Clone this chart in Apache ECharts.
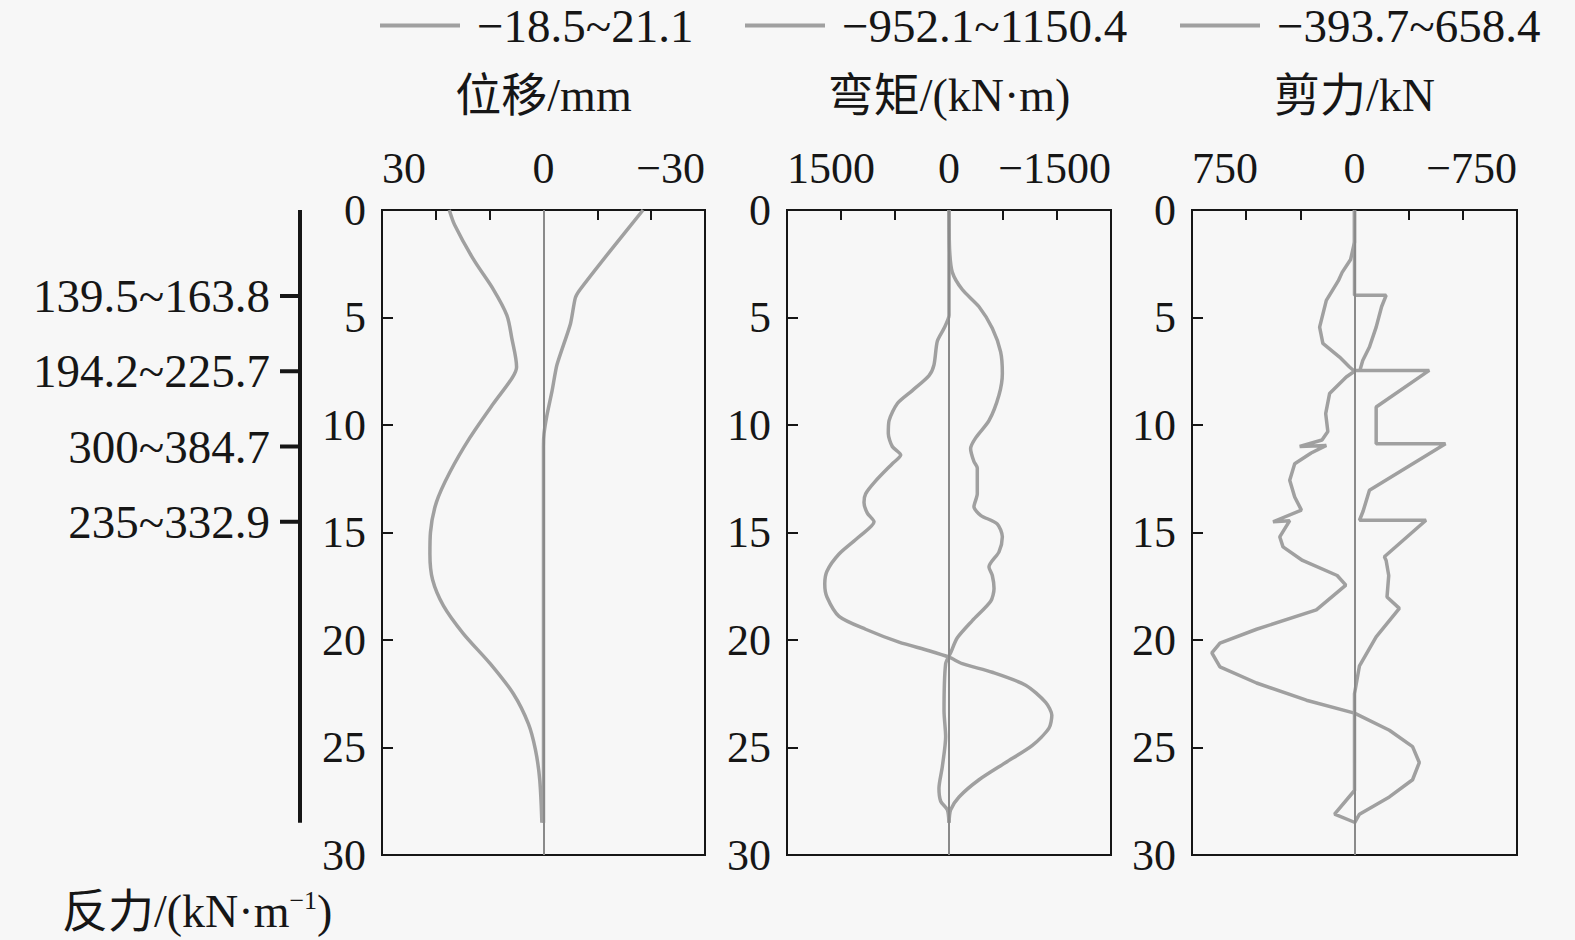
<!DOCTYPE html>
<html><head><meta charset="utf-8">
<script src="https://cdn.jsdelivr.net/npm/echarts@6/dist/echarts.min.js"></script>
<style>html,body{margin:0;padding:0;background:#f7f7f7}#c{width:1575px;height:940px}</style>
</head><body><div id="c"></div>
<script>
// ---------- data ----------
const legendNames = ['\u221218.5~21.1', '\u2212952.1~1150.4', '\u2212393.7~658.4'];
const axisTitles = ['位移/mm', '弯矩/(kN·m)', '剪力/kN'];
const axisRanges = [30, 1500, 750];
const xTickValues = [[-20, -10, 10, 20], [-1000, -500, 500, 1000], [-500, -250, 250, 500]];
const xLabelValues = [[-30, 0, 30], [-1500, 0, 1500], [-750, 0, 750]];
const depthTickValues = [5, 10, 15, 20, 25];

// [depth (m), value]
const dispA = [[0,17.5],[0.7,16.5],[2.3,13.0],[3.7,9.3],[4.9,6.8],[5.95,5.9],[7.3,5.0],[7.8,5.8],[9.0,9.3],[10.6,13.7],[12.2,17.4],[13.6,19.9],[15.0,21.0],[16.0,21.1],[17.2,20.6],[18.4,18.6],[19.7,14.9],[21.1,9.9],[22.5,5.6],[23.9,2.8],[25.1,1.5],[26.5,0.7],[28.5,0.3]];
const dispB = [[0,-18.5],[1.9,-12.4],[3.7,-6.8],[4.1,-5.9],[5.3,-5.0],[7.2,-2.5],[8.4,-1.6],[9.6,-0.6],[10.4,-0.1],[11,0],[28.5,0]];

const momentA = [[0,0],[4.9,0],[5.5,46],[6.1,108],[7.2,139],[7.7,185],[8.4,340],[9.0,478],[9.8,555],[10.4,562],[11.0,525],[11.4,447],[11.8,525],[12.6,679],[13.2,772],[13.6,787],[14.1,756],[14.5,694],[15.2,833],[16.0,1018],[16.8,1130],[17.4,1150.4],[18.0,1130],[18.9,1018],[19.5,772],[20.1,463],[20.5,185],[20.8,0],[21.1,-123],[21.5,-401],[22.1,-710],[22.9,-895],[23.5,-952.1],[24.1,-926],[24.9,-772],[25.7,-525],[26.5,-278],[27.3,-93],[27.9,-15],[28.5,0]];
const momentB = [[0,0],[1.9,-6],[2.9,-31],[3.7,-123],[4.5,-278],[5.5,-401],[6.6,-478],[7.6,-494],[8.6,-463],[9.8,-370],[10.6,-247],[11.1,-200],[11.7,-231],[12.0,-262],[13.2,-262],[13.8,-231],[14.2,-293],[14.6,-447],[15.2,-494],[15.9,-463],[16.6,-370],[17.0,-401],[17.6,-417],[18.2,-386],[19.1,-216],[19.9,-77],[20.6,-15],[21.1,31],[23.3,46],[24.5,31],[25.9,62],[26.9,93],[27.5,77],[27.9,15],[28.5,0]];

const shearA = [[0,0],[1.5,0],[2.3,18],[2.9,57],[3.3,75],[4.2,130],[5.45,161],[6.2,146],[6.84,69],[7.3,23],[7.5,0],[7.77,38],[8.54,115],[9.47,133],[10.3,123],[10.7,150],[11.0,253],[10.95,130],[11.3,200],[11.8,276],[12.57,299],[13.35,276],[13.96,245],[14.5,376],[14.45,299],[15.2,345],[15.67,330],[16.3,240],[17.0,80],[17.45,40],[18.6,176],[19.5,452],[20.15,621],[20.6,658.4],[21.25,621],[22.0,452],[22.8,222],[23.4,0],[24.2,-161],[24.96,-268],[25.7,-299],[26.5,-268],[27.3,-161],[28.1,-23],[28.5,0]];
const shearB = [[0,0],[3.97,0],[3.97,-146],[4.5,-125],[5.45,-100],[6.37,-69],[7.0,-38],[7.46,-25],[7.46,0],[7.46,-345],[9.16,-100],[10.87,-100],[10.87,-420],[13.03,-69],[14.0,-40],[14.43,-23],[14.43,-330],[16.13,-138],[16.3,-146],[17.0,-158],[18.0,-150],[18.53,-207],[19.85,-100],[21.2,-23],[22.5,0],[27.0,0],[28.1,92],[28.5,-5]];

const strutDepths = [4, 7.5, 11, 14.5];
const reactionLabels = ['139.5~163.8', '194.2~225.7', '300~384.7', '235~332.9'];
const pileLength = 28.5;

// ---------- chart ----------
const FONT = "'Liberation Serif','Noto Sans CJK SC',serif";
const INK = '#161616';
const CURVE = '#a0a0a0';
const fmt = v => String(v).replace('-', '\u2212');

const grids = [
  {left: 382, top: 210, width: 323, height: 645},
  {left: 787, top: 210, width: 324, height: 645},
  {left: 1192, top: 210, width: 325, height: 645}
].map(g => Object.assign(g, {show: true, borderColor: INK, borderWidth: 2, backgroundColor: 'transparent'}));
grids.push({left: 280, top: 210, width: 20, height: 645});

const xAxes = [0, 1, 2].map(i => ({
  gridIndex: i, type: 'value', position: 'top', inverse: true,
  min: -axisRanges[i], max: axisRanges[i],
  axisLine: {show: true, onZero: false, lineStyle: {color: INK, width: 2}}, splitLine: {show: false},
  axisTick: {show: true, inside: true, length: 10, customValues: xTickValues[i], lineStyle: {color: INK, width: 2}},
  axisLabel: {customValues: xLabelValues[i], formatter: fmt, fontSize: 44, fontFamily: FONT, color: INK, margin: 20,
              alignMinLabel: 'right', alignMaxLabel: 'left'},
  name: axisTitles[i], nameLocation: 'middle', nameGap: 92,
  nameTextStyle: {fontSize: 46, fontFamily: FONT, color: INK}
}));
xAxes.push({gridIndex: 3, type: 'value', min: 0, max: 1, show: false});

const yAxes = [0, 1, 2].map(i => ({
  gridIndex: i, type: 'value', position: 'left', inverse: true, min: 0, max: 30, interval: 5,
  axisLine: {show: true, onZero: false, lineStyle: {color: INK, width: 2}}, splitLine: {show: false},
  axisTick: {show: true, inside: true, length: 11, customValues: depthTickValues, lineStyle: {color: INK, width: 2}},
  axisLabel: {fontSize: 44, fontFamily: FONT, color: INK, margin: 16}
}));
yAxes.push({gridIndex: 3, type: 'value', inverse: true, min: 0, max: 30, show: false});

const centerLine = {
  silent: true, symbol: ['none', 'none'], label: {show: false},
  lineStyle: {color: '#8a8a8a', width: 2, type: 'solid'},
  emphasis: {disabled: true}, data: [{xAxis: 0}]
};

function curve(i, data, smooth, withCenter) {
  const s = {
    type: 'line', name: legendNames[i], xAxisIndex: i, yAxisIndex: i,
    data: data.map(p => [p[1], p[0]]), symbol: 'none', smooth: smooth,
    color: CURVE, lineStyle: {color: CURVE, width: 3.5}, itemStyle: {color: CURVE},
    emphasis: {disabled: true}, z: 3
  };
  if (withCenter) s.markLine = centerLine;
  return s;
}

const series = [
  curve(0, dispA, 0.3, true), curve(0, dispB, 0.2, false),
  curve(1, momentA, 0.25, true), curve(1, momentB, 0.25, false),
  curve(2, shearA, false, true), curve(2, shearB, false, false),
  {
    type: 'line', xAxisIndex: 3, yAxisIndex: 3, symbol: 'none', silent: true,
    data: [[1, 0], [1, pileLength]], lineStyle: {color: INK, width: 4}, emphasis: {disabled: true}
  },
  {
    type: 'custom', xAxisIndex: 3, yAxisIndex: 3, silent: true,
    data: strutDepths.map((d, i) => [d, i]),
    renderItem: function (params, api) {
      const d = api.value(0), idx = api.value(1);
      const p0 = api.coord([0, d]), p1 = api.coord([1, d]);
      return {
        type: 'group', children: [
          {type: 'line', shape: {x1: p0[0], y1: p0[1], x2: p1[0], y2: p1[1]}, style: {stroke: INK, lineWidth: 4}},
          {type: 'text', x: p0[0] - 10, y: p0[1], style: {text: reactionLabels[idx], fill: INK, font: '47px ' + FONT, align: 'right', verticalAlign: 'middle'}}
        ]
      };
    }
  }
];

const legendLefts = [380, 745, 1180];
const legends = legendNames.map((n, i) => ({
  data: [n], left: legendLefts[i], top: 2, padding: 0, icon: 'rect', itemWidth: 80, itemHeight: 4,
  selectedMode: false,
  textStyle: {fontSize: 47, lineHeight: 44, fontFamily: FONT, color: INK, padding: [0, 0, 0, 12]}
}));

const chart = echarts.init(document.getElementById('c'), null, {renderer: 'svg'});
chart.setOption({
  backgroundColor: '#f7f7f7',
  animation: false,
  title: {
    text: '{a|反力/(kN·m}{s|\u22121}{a|)}', left: 57, top: 882,
    textStyle: {fontWeight: 'normal', rich: {
      a: {fontSize: 46, fontFamily: FONT, color: INK, fontWeight: 'normal'},
      s: {fontSize: 26, fontFamily: FONT, color: INK, fontWeight: 'normal', padding: [0, 0, 22, 0]}}}
  },
  legend: legends,
  grid: grids,
  xAxis: xAxes,
  yAxis: yAxes,
  series: series
});
</script></body></html>
